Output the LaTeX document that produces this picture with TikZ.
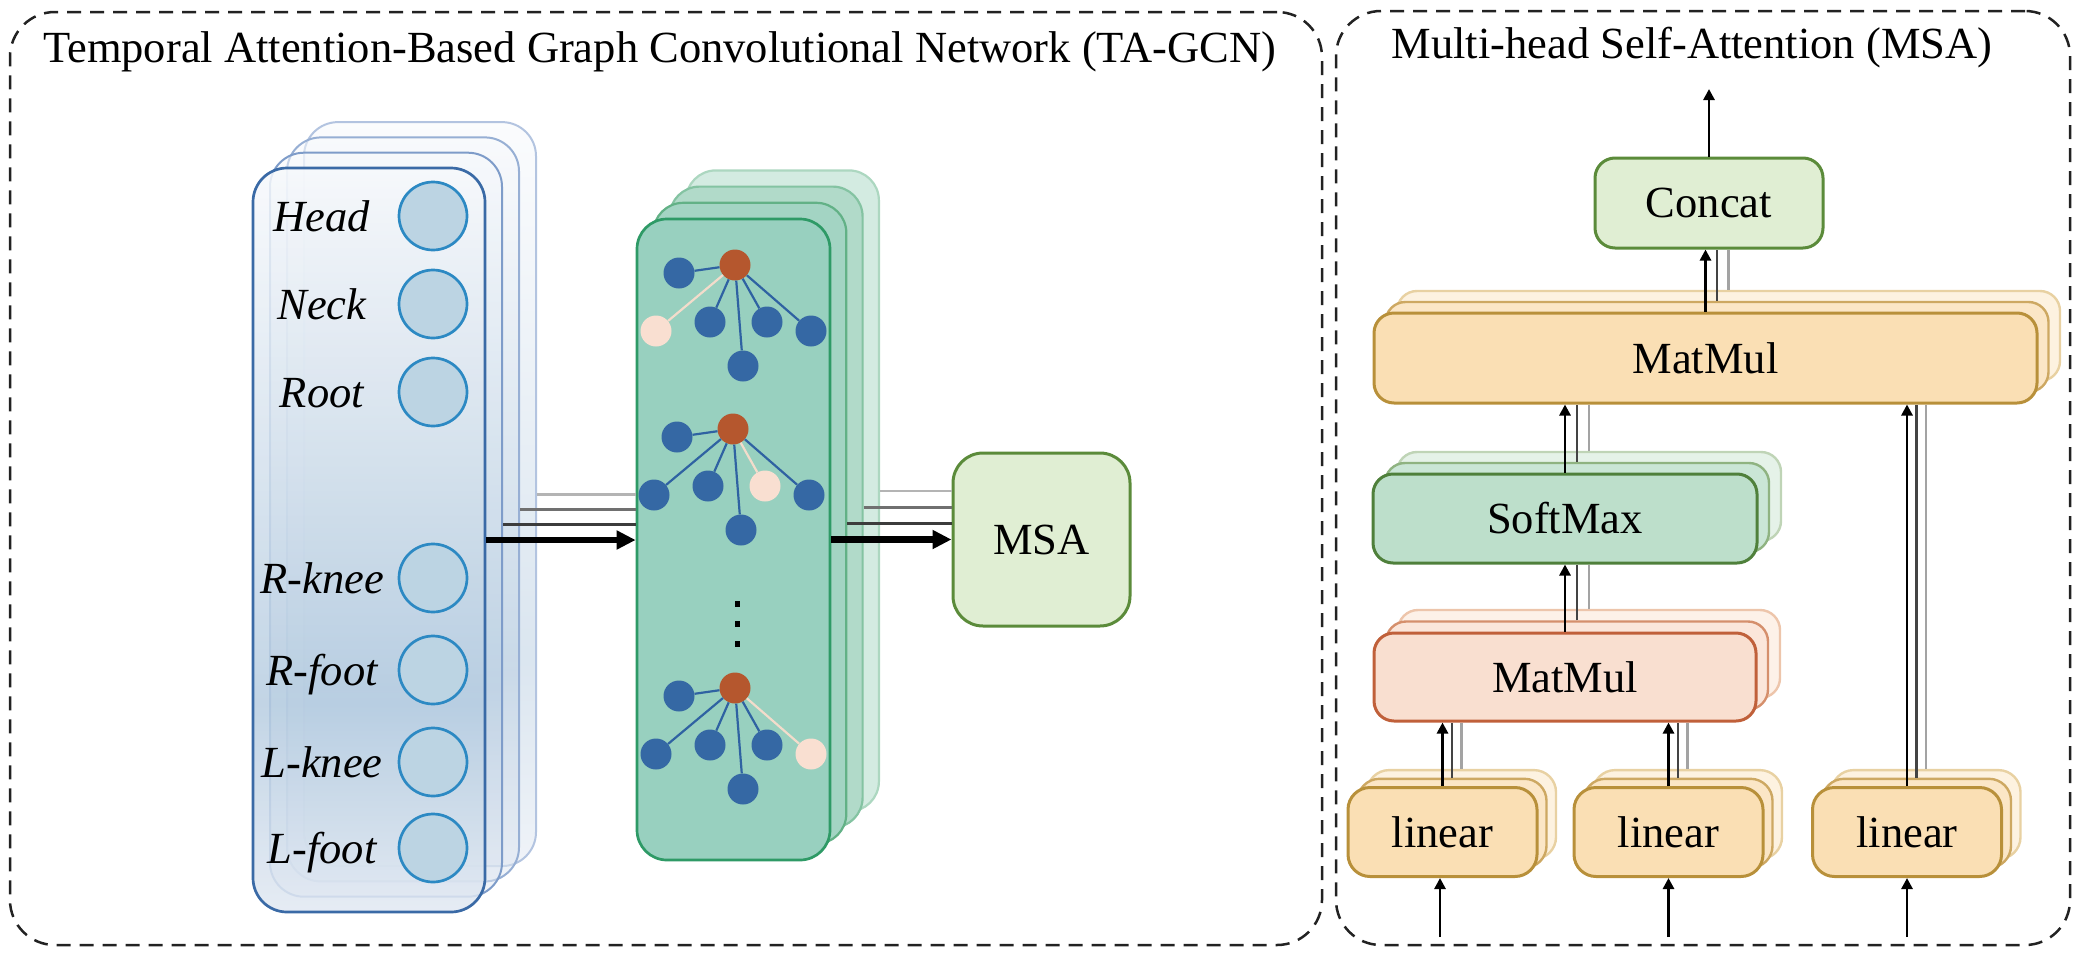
\documentclass[tikz,border=0pt]{standalone}
\usepackage{fontspec}
\setmainfont{Liberation Serif}
\usetikzlibrary{arrows.meta,calc}

\definecolor{framec}{HTML}{222222}
\definecolor{bcT}{HTML}{F7F9FC}
\definecolor{bcM}{HTML}{B7CDE1}
\definecolor{bcB}{HTML}{E1E8F2}
\definecolor{bc0}{HTML}{3A6AA6}
\definecolor{bc1}{HTML}{7E9CC9}
\definecolor{bc2}{HTML}{97AFD4}
\definecolor{bc3}{HTML}{B3C4E0}
\definecolor{jfill}{HTML}{BCD4E3}
\definecolor{jdraw}{HTML}{2C89C3}
\definecolor{g0f}{HTML}{98D0BF}
\definecolor{g0d}{HTML}{2E9A66}
\definecolor{g1f}{HTML}{A3D4C3}
\definecolor{g1d}{HTML}{62B186}
\definecolor{g2f}{HTML}{B1DAC9}
\definecolor{g2d}{HTML}{84C3A2}
\definecolor{g3f}{HTML}{D3EBE1}
\definecolor{g3d}{HTML}{ACD7C0}
\definecolor{nblue}{HTML}{3568A4}
\definecolor{norange}{HTML}{B5572E}
\definecolor{npink}{HTML}{F9DFD1}
\definecolor{eblue}{HTML}{2F62A2}
\definecolor{epink}{HTML}{F3DCCB}
\definecolor{msaf}{HTML}{E0EED3}
\definecolor{msad}{HTML}{5B8B3A}
\definecolor{smf0}{HTML}{BDDFCB}
\definecolor{smd0}{HTML}{4F803B}
\definecolor{smf1}{HTML}{CAE6D6}
\definecolor{smd1}{HTML}{8FB381}
\definecolor{smf2}{HTML}{E5F2E8}
\definecolor{smd2}{HTML}{BFD4B6}
\definecolor{orf0}{HTML}{FADFB4}
\definecolor{ord0}{HTML}{B8903A}
\definecolor{orf1}{HTML}{FBE6C6}
\definecolor{ord1}{HTML}{CDA862}
\definecolor{orf2}{HTML}{FDF2E0}
\definecolor{ord2}{HTML}{E8D1A2}
\definecolor{pkf0}{HTML}{F9DFD0}
\definecolor{pkd0}{HTML}{C0603A}
\definecolor{pkf1}{HTML}{FBE6DA}
\definecolor{pkd1}{HTML}{D58F6C}
\definecolor{pkf2}{HTML}{FDF1E8}
\definecolor{pkd2}{HTML}{EDC5AB}
\definecolor{gdark}{HTML}{3C3C3C}
\definecolor{gmid}{HTML}{707070}
\definecolor{glight}{HTML}{B4B4B4}
\definecolor{rdark}{HTML}{444444}
\definecolor{rlight}{HTML}{A3A3A3}

\pgfdeclareverticalshading{bluecardsh}{100bp}{color(0bp)=(bcB); color(25bp)=(bcB); color(39bp)=(bcM); color(75bp)=(bcT); color(100bp)=(bcT)}

\tikzset{
 panel/.style={draw=framec, line width=2.5pt, dash pattern=on 14pt off 9pt, rounded corners=45pt, inner sep=0pt},
 bcard/.style={draw=#1, line width=2pt, rounded corners=34pt, shade, shading=bluecardsh, fill opacity=0.5, minimum width=232pt, minimum height=744pt, inner sep=0pt},
 joint/.style={circle, draw=jdraw, fill=jfill, line width=2.7pt, minimum size=68pt, inner sep=0pt},
 lbl/.style={anchor=base, inner sep=0pt, font=\fontsize{44.5}{53}\selectfont\itshape},
 gcard/.style 2 args={draw=#1, fill=#2, line width=2.2pt, rounded corners=30pt, minimum width=193pt, minimum height=641pt, inner sep=0pt},
 gn/.style={circle, fill=nblue, minimum size=31pt, inner sep=0pt},
 pn/.style={circle, fill=npink, minimum size=31pt, inner sep=0pt},
 rn/.style={circle, fill=norange, minimum size=31pt, inner sep=0pt},
 gn e/.style={draw=eblue, line width=2.2pt},
 pn e/.style={draw=epink, line width=2.2pt},
 bigarrow/.style={draw=black, line width=6.5pt, -{Triangle[length=19pt,width=18pt]}},
 gline/.style={draw=#1, line width=2.8pt},
 rbox/.style 2 args={draw=#1, fill=#2, line width=3pt, rounded corners=20pt, inner sep=0pt},
 rback/.style 2 args={draw=#1, fill=#2, line width=2.4pt, rounded corners=20pt, inner sep=0pt},
 thinarrow/.style={draw=black, line width=2.7pt, -{Triangle[length=11pt,width=11pt]}},
 vline/.style={draw=#1, line width=2.5pt},
}

\newcommand{\mytree}[6]{%
 \coordinate (#1o) at (#2,#3);
 \node[gn] (#1l) at ($(#1o)+(-56,8)$) {};
 \node[#4] (#1a) at ($(#1o)+(-79,66)$) {};
 \node[gn] (#1b) at ($(#1o)+(-25,57)$) {};
 \node[#5] (#1c) at ($(#1o)+(32,57)$) {};
 \node[#6] (#1d) at ($(#1o)+(76,66)$) {};
 \node[gn] (#1e) at ($(#1o)+(8,101)$) {};
 \node[rn] (#1r) at (#1o) {};
 \draw[gn e] (#1r) -- (#1l);
 \draw[#4 e] (#1r) -- (#1a);
 \draw[gn e] (#1r) -- (#1b);
 \draw[#5 e] (#1r) -- (#1c);
 \draw[#6 e] (#1r) -- (#1d);
 \draw[gn e] (#1r) -- (#1e);
}

\begin{document}
\begin{tikzpicture}[x=1pt,y=-1pt,font=\fontsize{44.5}{53}\selectfont]
\useasboundingbox (0,0) rectangle (2090,964);

% panels
\node[panel, minimum width=1312pt, minimum height=933pt] (leftpanel) at (666,478.5) {};
\node[panel, minimum width=734pt, minimum height=934pt] (rightpanel) at (1703,478) {};
\node[anchor=base west, inner sep=0pt] (t1) at (43,62) {Temporal Attention-Based Graph Convolutional Network (TA-GCN)};
\node[anchor=base, inner sep=0pt] (t2) at (1692,58) {Multi-head Self-Attention (MSA)};

% blue stack
\node[bcard=bc3] (b3) at (420,494.1) {};
\node[bcard=bc2] (b2) at (403,509.4) {};
\node[bcard=bc1] (b1) at (386,524.7) {};
\node[bcard=bc0, line width=2.7pt, fill opacity=0.85] (b0) at (369,540) {};

\foreach \nm/\yy in {Head/216, Neck/304, Root/392, R-knee/578, R-foot/670, L-knee/762, L-foot/848}{
 \node[joint] (j\nm) at (433,\yy) {};
 \node[lbl] (l\nm) at (322,\yy+15) {\nm};
}

% green stack
\node[gcard={g3d}{g3f}] (g3) at (782.4,490.9) {};
\node[gcard={g2d}{g2f}] (g2) at (766.1,507.1) {};
\node[gcard={g1d}{g1f}] (g1) at (749.8,523.3) {};
\node[gcard={g0d}{g0f}, line width=2.7pt] (g0) at (733.5,539.5) {};

\mytree{ta}{735}{265}{pn}{gn}{gn}
\mytree{tb}{733}{429}{gn}{pn}{gn}
\mytree{tc}{735}{688}{gn}{gn}{pn}

\fill (734.5,601) rectangle (739.5,607);
\fill (734.5,621) rectangle (739.5,627);
\fill (734.5,641) rectangle (739.5,647);

% MSA box
\node[rbox={msad}{msaf}, rounded corners=30pt, minimum width=177pt, minimum height=173pt] (msa) at (1041.5,539.5) {MSA};

% connectors left panel
\draw[gline=glight] (b3.east) -- (b3.east -| g0.west);
\draw[gline=gmid] (b2.east) -- (b2.east -| g0.west);
\draw[gline=gdark] (b1.east) -- (b1.east -| g0.west);
\draw[bigarrow] (b0.east) -- (b0.east -| g0.west);

\draw[gline=glight] (g3.east) -- (g3.east -| msa.west);
\draw[gline=gmid] (g2.east) -- (g2.east -| msa.west);
\draw[gline=gdark] (g1.east) -- (g1.east -| msa.west);
\draw[bigarrow] (g0.east) -- (g0.east -| msa.west);

% right panel boxes
\node[rbox={msad}{msaf}, minimum width=228pt, minimum height=90pt] (cc) at (1709,203) {Concat};

\node[rback={ord2}{orf2}, minimum width=663pt, minimum height=90pt] (mm2c) at (1728.5,336) {};
\node[rback={ord1}{orf1}, minimum width=663pt, minimum height=90pt] (mm2b) at (1717,347) {};
\node[rbox={ord0}{orf0}, minimum width=663pt, minimum height=90pt] (mm2a) at (1705.5,358) {MatMul};

\node[rback={smd2}{smf2}, minimum width=384pt, minimum height=89pt] (smc) at (1589,496.5) {};
\node[rback={smd1}{smf1}, minimum width=384pt, minimum height=89pt] (smb) at (1577,507.5) {};
\node[rbox={smd0}{smf0}, minimum width=384pt, minimum height=89pt] (sma) at (1565,518.5) {SoftMax};

\node[rback={pkd2}{pkf2}, minimum width=382pt, minimum height=88pt] (mmc) at (1589,654) {};
\node[rback={pkd1}{pkf1}, minimum width=382pt, minimum height=88pt] (mmb) at (1577,665.5) {};
\node[rbox={pkd0}{pkf0}, minimum width=382pt, minimum height=88pt] (mma) at (1565,677) {MatMul};

\foreach \nm/\xx in {l1/1442.5, l2/1668.5, l3/1907}{
 \node[rback={ord2}{orf2}, rounded corners=22pt, minimum width=189pt, minimum height=89pt] (\nm c) at (\xx+19,814.6) {};
 \node[rback={ord1}{orf1}, rounded corners=22pt, minimum width=189pt, minimum height=89pt] (\nm b) at (\xx+9.5,823.3) {};
 \node[rbox={ord0}{orf0}, rounded corners=22pt, minimum width=189pt, minimum height=89pt] (\nm a) at (\xx,832) {linear};
}

% right panel connectors
\coordinate (out) at (1709,89);
\draw[thinarrow] (cc.north) -- (out);
\draw[vline=rlight] (mm2c.north) -- (mm2c.north |- cc.south);
\draw[vline=rdark] (mm2b.north) -- (mm2b.north |- cc.south);
\draw[thinarrow] (mm2a.north) -- (mm2a.north |- cc.south);

\draw[vline=rlight] (smc.north) -- (smc.north |- mm2a.south);
\draw[vline=rdark] (smb.north) -- (smb.north |- mm2a.south);
\draw[thinarrow] (sma.north) -- (sma.north |- mm2a.south);

\draw[vline=rlight] (mmc.north) -- (mmc.north |- sma.south);
\draw[vline=rdark] (mmb.north) -- (mmb.north |- sma.south);
\draw[thinarrow] (mma.north) -- (mma.north |- sma.south);

\draw[vline=rlight] (l1c.north) -- (l1c.north |- mma.south);
\draw[vline=rdark] (l1b.north) -- (l1b.north |- mma.south);
\draw[thinarrow] (l1a.north) -- (l1a.north |- mma.south);
\draw[vline=rlight] (l2c.north) -- (l2c.north |- mma.south);
\draw[vline=rdark] (l2b.north) -- (l2b.north |- mma.south);
\draw[thinarrow] (l2a.north) -- (l2a.north |- mma.south);
\draw[vline=rlight] (l3c.north) -- (l3c.north |- mm2a.south);
\draw[vline=rdark] (l3b.north) -- (l3b.north |- mm2a.south);
\draw[thinarrow] (l3a.north) -- (l3a.north |- mm2a.south);

\coordinate (in1) at (1440,937);
\coordinate (in2) at (1668.5,937);
\coordinate (in3) at (1907,937);
\draw[thinarrow] (in1) -- (in1 |- l1a.south);
\draw[thinarrow] (in2) -- (l2a.south);
\draw[thinarrow] (in3) -- (l3a.south);
\end{tikzpicture}
\end{document}
